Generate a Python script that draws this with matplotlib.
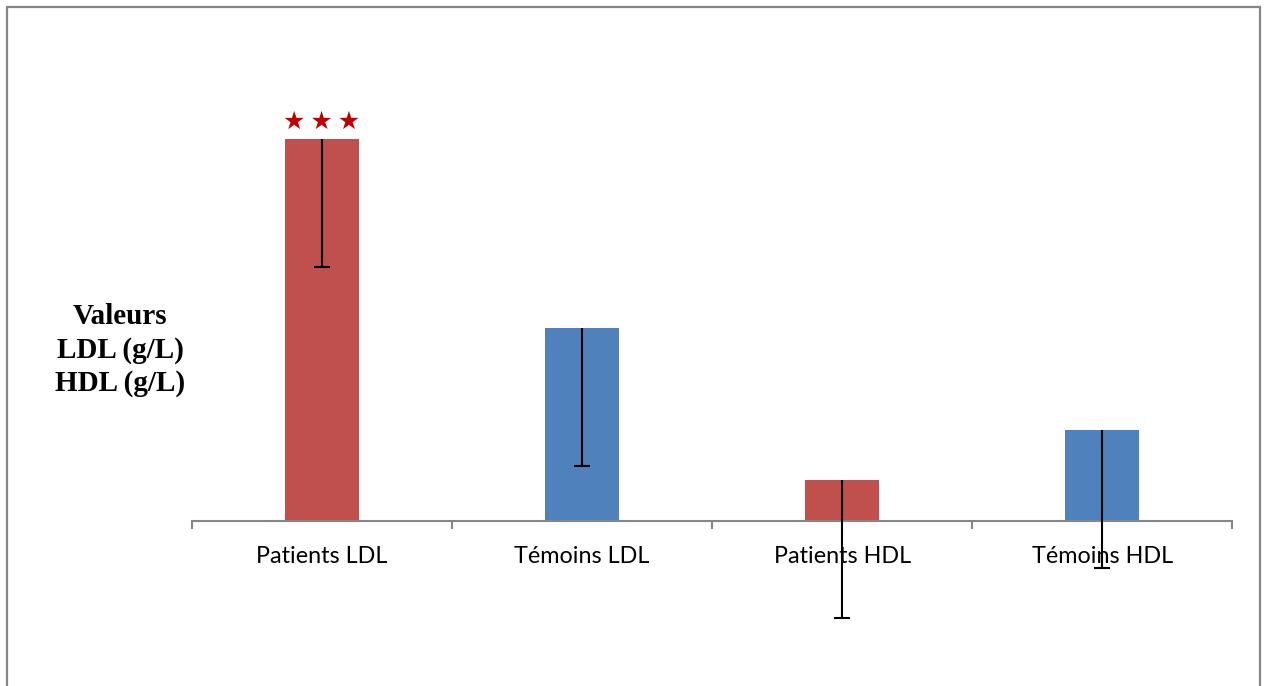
import matplotlib
matplotlib.use("Agg")
import matplotlib.pyplot as plt
from matplotlib.patches import Rectangle

groups = ["Patients LDL", "Témoins LDL", "Patients HDL", "Témoins HDL"]
values = [1.91, 0.965, 0.205, 0.455]
errors = [0.64, 0.69, 0.69, 0.69]
colors = ["#C0504D", "#4F81BD", "#C0504D", "#4F81BD"]
signif = {0: "★\u2009★\u2009★"}

GRAY = "#868686"

fig = plt.figure(figsize=(12.66, 6.86), dpi=100, facecolor="white")
ax = fig.add_axes([0.1517, 0.2405, 0.8215, 0.6123])

x = list(range(len(groups)))
ax.bar(x, values, width=0.285, color=colors, zorder=2)

# lower-only error bars, drawn over the tick labels
lows = [v - e for v, e in zip(values, errors)]
ax.vlines(x, lows, values, color="black", linewidth=1.5, zorder=5, clip_on=False)
ax.plot(x, lows, linestyle="none", marker="_", markersize=12, markeredgewidth=1.5,
        color="black", zorder=5, clip_on=False)

for i, stars in signif.items():
    ax.annotate(stars, xy=(i, values[i]), xytext=(0, 4), textcoords="offset points",
                ha="center", va="bottom", color="#C00000", fontsize=18,
                family="DejaVu Sans")

ax.set_xlim(-0.5, len(groups) - 0.5)
ax.set_ylim(0, 2.1)
ax.set_xticks(x)
ax.set_xticklabels(groups, fontsize=16.8, family="Lato")
ax.set_xticks([i - 0.5 for i in range(len(groups) + 1)], minor=True)
ax.tick_params(axis="x", which="major", length=0, pad=18)
ax.tick_params(axis="x", which="minor", length=6, width=1.5, color=GRAY)
ax.set_yticks([])
for side in ("top", "right", "left"):
    ax.spines[side].set_visible(False)
ax.spines["bottom"].set_color(GRAY)
ax.spines["bottom"].set_linewidth(1.5)

fig.text(120 / 1266, 1 - 350 / 686, "Valeurs\nLDL (g/L)\nHDL (g/L)",
         ha="center", va="center", fontsize=21, fontweight="bold",
         family="Liberation Serif", linespacing=1.3)

# chart frame
fig.patches.append(Rectangle((7 / 1266, -0.02), 1253 / 1266, 1.02 - 7 / 686,
                             transform=fig.transFigure, fill=False,
                             edgecolor=GRAY, linewidth=1.6))

fig.savefig("out.png", dpi=100, facecolor="white")
